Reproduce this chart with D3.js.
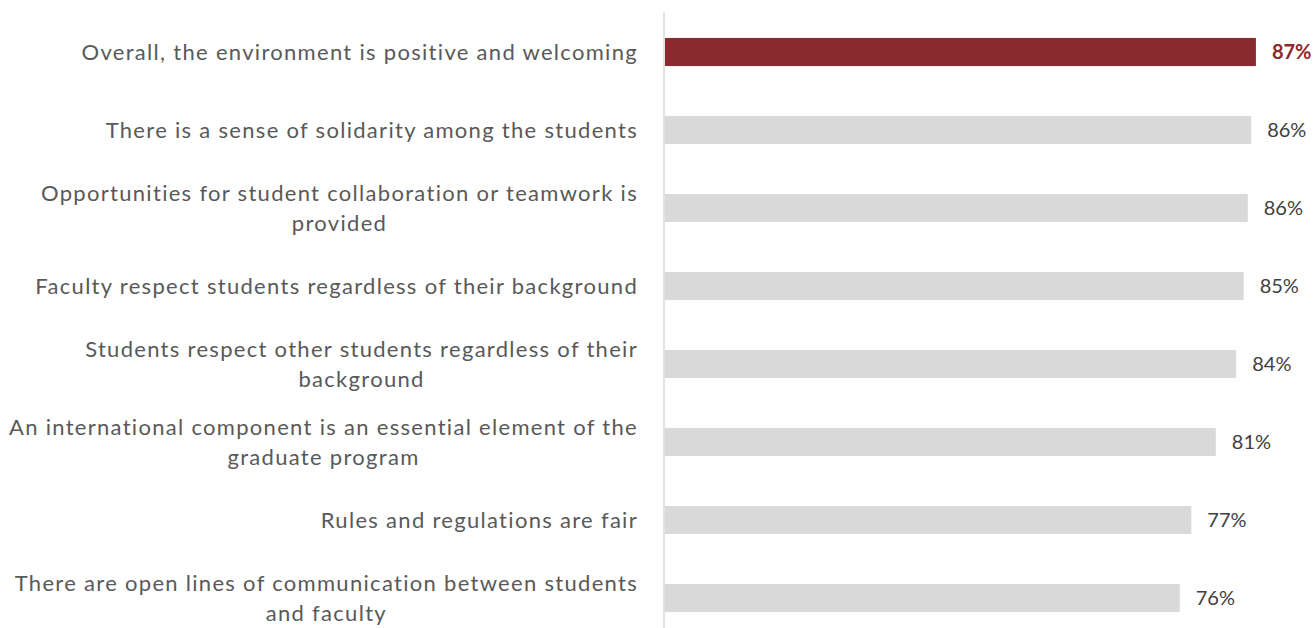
<!DOCTYPE html>
<html>
<head>
<meta charset="utf-8">
<script src="https://cdn.jsdelivr.net/npm/d3@7"></script>
<style>
  html, body { margin: 0; padding: 0; background: #fff; }
  svg { display: block; font-family: Lato, "Open Sans", sans-serif; }
</style>
</head>
<body>
<div id="chart"></div>
<script>
// categories top → bottom, each entry is the wrapped lines of the label
const categories = [
  ['Overall, the environment is positive and welcoming'],
  ['There is a sense of solidarity among the students'],
  ['Opportunities for student collaboration or teamwork is', 'provided'],
  ['Faculty respect students regardless of their background'],
  ['Students respect other students regardless of their', 'background'],
  ['An international component is an essential element of the', 'graduate program'],
  ['Rules and regulations are fair'],
  ['There are open lines of communication between students', 'and faculty']
];
const values = [86.9, 86.2, 85.7, 85.1, 84.0, 81.0, 77.4, 75.7];
const highlight = [true, false, false, false, false, false, false, false];

const W = 1316, H = 628;
const RED = '#8b2a2e', GREY = '#d9d9d9';

const rows = categories.map((c, i) => ({ i, lines: c, v: values[i], hi: highlight[i] }));

const svg = d3.select('#chart').append('svg').attr('width', W).attr('height', H);

const x = d3.scaleLinear().domain([0, 100]).range([665, 1345]);
const y = d3.scaleBand().domain(rows.map(d => d.i)).range([13, 637])
  .paddingInner(0.64).paddingOuter(0.32);

// Bars
svg.append('g').selectAll('rect').data(rows).join('rect')
  .attr('x', x(0))
  .attr('y', d => y(d.i))
  .attr('width', d => x(d.v) - x(0))
  .attr('height', y.bandwidth())
  .attr('fill', d => d.hi ? RED : GREY);

// Category axis line
svg.append('line')
  .attr('x1', x(0) - 1).attr('x2', x(0) - 1)
  .attr('y1', 12).attr('y2', H)
  .attr('stroke', GREY).attr('stroke-width', 1.5);

// Value labels
svg.append('g').selectAll('text').data(rows).join('text')
  .attr('x', d => x(d.v) + 16)
  .attr('y', d => y(d.i) + y.bandwidth() / 2)
  .attr('dy', '0.35em')
  .attr('font-size', '20px')
  .attr('font-weight', d => d.hi ? 700 : 400)
  .attr('fill', d => d.hi ? RED : '#404040')
  .text(d => d3.format('.0f')(d.v) + '%');

// Category labels: right aligned block, wrapped lines centred in it
const labelRight = 638, lineH = 30;
const lab = svg.append('g').selectAll('g').data(rows).join('g');
lab.each(function(d) {
  const g = d3.select(this);
  const cy = y(d.i) + y.bandwidth() / 2;
  const n = d.lines.length;
  const ts = d.lines.map((s, k) => g.append('text')
    .attr('y', cy + (k - (n - 1) / 2) * lineH)
    .attr('dy', '0.35em')
    .attr('font-size', '22px')
    .attr('letter-spacing', '1.3px')
    .attr('fill', '#595959')
    .attr('text-anchor', 'middle')
    .text(s));
  const wMax = d3.max(ts, t => t.node().getComputedTextLength());
  ts.forEach(t => t.attr('x', labelRight - wMax / 2));
});
</script>
</body>
</html>
